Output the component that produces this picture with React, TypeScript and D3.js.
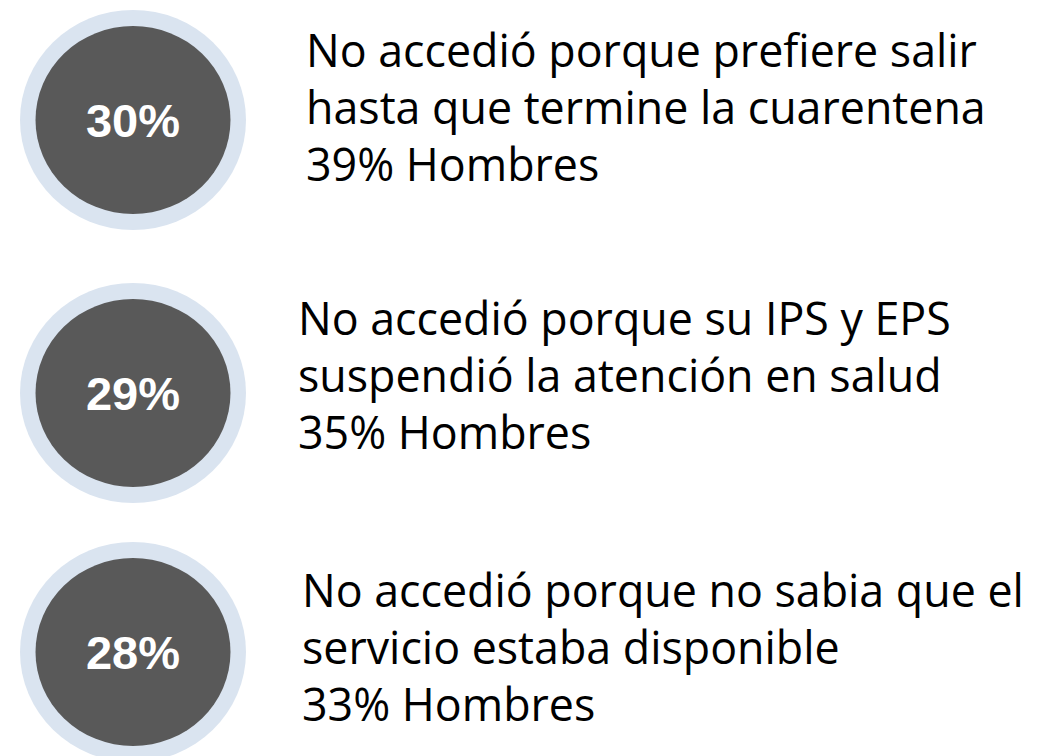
import React, { useLayoutEffect, useRef, useState } from "react";
import * as d3 from "d3";

// ---- data ----
const percentages = [30, 29, 28];
const reasonLine1 = [
  "No accedió porque prefiere salir",
  "No accedió porque su IPS y EPS",
  "No accedió porque no sabia que el",
];
const reasonLine2 = [
  "hasta que termine la cuarentena",
  "suspendió la atención en salud",
  "servicio estaba disponible",
];
const hombres = [39, 35, 33];

// ---- layout ----
const W = 1041;
const H = 756;
const circleCentersY = [120, 393, 652];
const textLeftX = [306, 298, 302];
const textFirstBaseline = [67, 335, 607];
const targetLine1Width = 671; // width of first line of block 1
const lineGap = 57;
const BASE_FS = 42;

export default function App() {
  const measureRef = useRef<SVGTSpanElement | null>(null);
  const [fontSize, setFontSize] = useState(BASE_FS);

  useLayoutEffect(() => {
    if (measureRef.current) {
      const w = measureRef.current.getComputedTextLength();
      if (w > 0) setFontSize((BASE_FS * targetLine1Width) / w);
    }
  }, []);

  const idx = d3.range(percentages.length);
  const y = d3.scaleOrdinal<number, number>().domain(idx).range(circleCentersY);
  const cx = 133;
  const outerRx = 113, outerRy = 110;
  const innerRx = 97.5, innerRy = 94;
  const fmt = (v: number) => `${v}%`;

  return (
    <svg
      width={W}
      height={H}
      style={{ position: "fixed", left: 0, top: 0, background: "#fff" }}
    >
      {idx.map((i) => (
        <g key={i}>
          <ellipse cx={cx} cy={y(i)} rx={outerRx} ry={outerRy} fill="#dae4f0" />
          <ellipse cx={cx} cy={y(i)} rx={innerRx} ry={innerRy} fill="#595959" />
          <text
            x={cx}
            y={y(i)}
            dy="0.36em"
            textAnchor="middle"
            fill="#ffffff"
            fontFamily="'Liberation Sans', Arial, sans-serif"
            fontWeight="bold"
            fontSize={47}
          >
            {fmt(percentages[i])}
          </text>
          <text
            x={textLeftX[i]}
            y={textFirstBaseline[i]}
            fill="#000000"
            fontFamily="'Open Sans', sans-serif"
            fontSize={fontSize}
          >
            <tspan
              ref={i === 0 ? measureRef : undefined}
              x={textLeftX[i]}
              y={textFirstBaseline[i]}
            >
              {reasonLine1[i]}
            </tspan>
            <tspan x={textLeftX[i]} y={textFirstBaseline[i] + lineGap}>
              {reasonLine2[i]}
            </tspan>
            <tspan x={textLeftX[i]} y={textFirstBaseline[i] + lineGap * 2}>
              {`${fmt(hombres[i])} Hombres`}
            </tspan>
          </text>
        </g>
      ))}
    </svg>
  );
}
